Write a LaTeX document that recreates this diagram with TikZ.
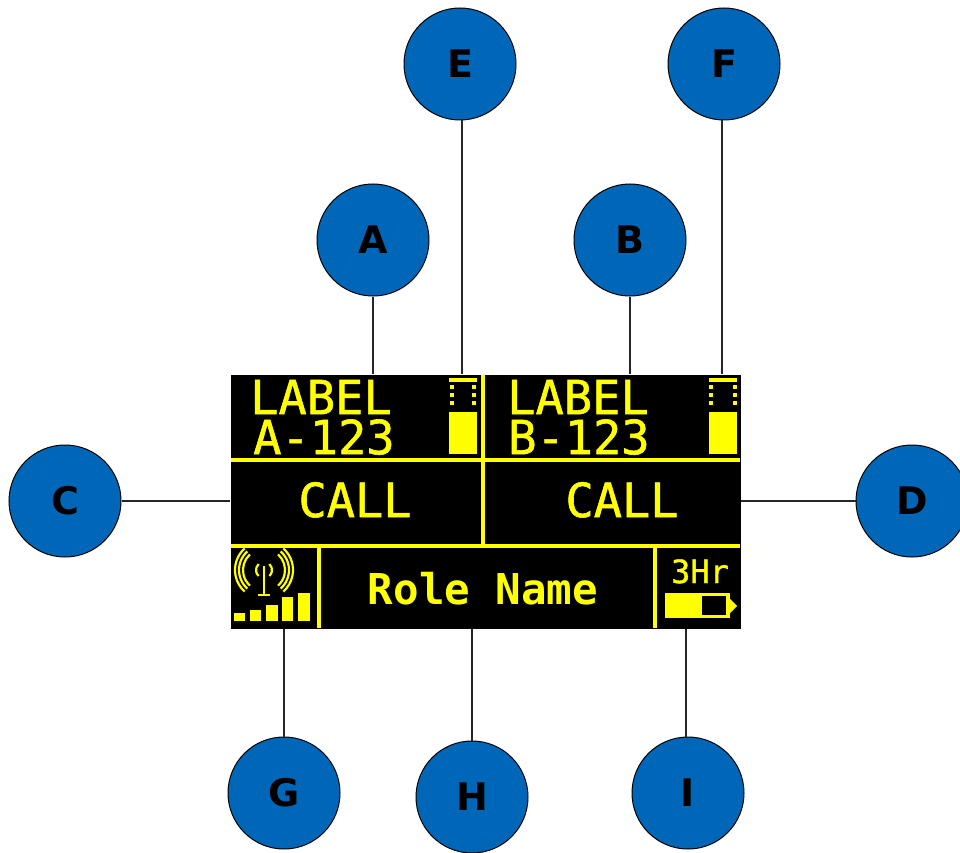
\documentclass[tikz,border=0pt]{standalone}
\usepackage{fontspec}
\setmainfont{DejaVu Sans}
\setmonofont{DejaVu Sans Mono}
\newfontfamily\lcdfont[FakeBold=1.2]{DejaVu Sans Mono}
\usetikzlibrary{positioning}
\definecolor{callout}{HTML}{0067B8}
\definecolor{lcd}{HTML}{FFFF00}
\tikzset{
  callout/.style={circle, draw=black, line width=1pt, fill=callout, minimum size=112pt,
    inner sep=0pt, font=\fontsize{38}{38}\selectfont\bfseries},
  lead/.style={black!85, line width=1.4pt},
  rule/.style={lcd, line width=3.2pt},
  bigtext/.style={lcd, anchor=base, inner sep=0pt, font=\fontsize{47}{40}\selectfont\lcdfont},
  twolines/.style={bigtext, anchor=south west, align=left},
  roletext/.style={lcd, anchor=base, inner sep=0pt, font=\fontsize{42.5}{42.5}\selectfont\ttfamily\bfseries},
  hourtext/.style={lcd, anchor=base, inner sep=0pt, font=\fontsize{32}{32}\selectfont\lcdfont},
}
\begin{document}
\begin{tikzpicture}[x=1pt, y=-1pt]
    \useasboundingbox (0,0) rectangle (960,853);
    \node [fill=black, minimum width=510pt, minimum height=254pt, inner sep=0pt] (screen) at (485.5,501.5) {};
    % callouts
    \node [callout] (A) at (373,240) {A};
    \node [callout] (B) at (630,240) {B};
    \node [callout] (C) at (65,501) {C};
    \node [callout] (D) at (912,501) {D};
    \node [callout] (E) at (460,64) {E};
    \node [callout] (F) at (724,64) {F};
    \node [callout] (G) at (284,793) {G};
    \node [callout] (H) at (472,797) {H};
    \node [callout] (I) at (688,793) {I};
    \draw [lead] (A) -- (A |- screen.north);
    \draw [lead] (B) -- (B |- screen.north);
    \draw [lead] (C) -- (C -| screen.west);
    \draw [lead] (D) -- (D -| screen.east);
    \draw [lead] ([xshift=2pt]E.south) -- ([xshift=2pt]E.south |- screen.north);
    \draw [lead] ([xshift=-2pt]F.south) -- ([xshift=-2pt]F.south |- screen.north);
    \draw [lead] (G) -- (G |- screen.south);
    \draw [lead] (H) -- (H |- screen.south);
    \draw [lead] ([xshift=-2pt]I.north) -- ([xshift=-2pt]I.north |- screen.south);
    % screen rules
    \draw [rule] (231,460) -- (740,460);
    \draw [rule] (231,546) -- (740,546);
    \draw [rule] (483,375) -- (483,546);
    \draw [rule] (319,546) -- (319,628);
    \draw [rule] (655,546) -- (655,628);
    % screen texts
    \node [twolines] (labelA) at (250,455) {LABEL\\\hspace*{3pt}A-123};
    \node [twolines] (labelB) at (507,455) {LABEL\\\hspace*{1pt}B-123};
    \node [bigtext] (callA) at (355,517) {CALL};
    \node [bigtext] (callB) at (622,517) {CALL};
    \node [roletext] (role) at (483,604) {Role Name};
    \node [hourtext] (hours) at (700,583) {3Hr};
    % volume bars
    \foreach \x/\l/\r in {449/452/474, 709/711/735} {
      \fill [lcd] (\x,412) rectangle +(28,41.5);
      \fill [lcd] (\x,378) rectangle +(28,3.5);
      \foreach \y in {387,395,403} {
        \fill [lcd] (\l-2,\y-2) rectangle +(4,4);
        \fill [lcd] (\r-2,\y-2) rectangle +(4,4);
      }
    }
    % signal
    \foreach \a/\b/\c in {234/245/613, 250/261/610, 266/278/605, 282/293/597, 298/310/593}
      \fill [lcd] (\a,\c) rectangle (\b,621);
    \begin{scope}[lcd, line width=2.2pt]
    \foreach \r in {8,21,25,29} {
      \draw (264,570) ++(-48:\r) arc [start angle=48, end angle=-48, x radius=\r, y radius=-\r];
      \draw (264,570) ++(-132:\r) arc [start angle=132, end angle=228, x radius=\r, y radius=-\r];
    }
    \draw [line width=2.6pt] (264,566) -- (264,595) (258,595) -- (270,595);
    \end{scope}
    % battery
    \draw [lcd, line width=3.2pt] (666.5,594.5) rectangle (728,616.5);
    \fill [lcd] (665,593) rectangle (702,618);
    \fill [lcd] (728,597) -- (737,606) -- (728,615) -- cycle;
\end{tikzpicture}
\end{document}
